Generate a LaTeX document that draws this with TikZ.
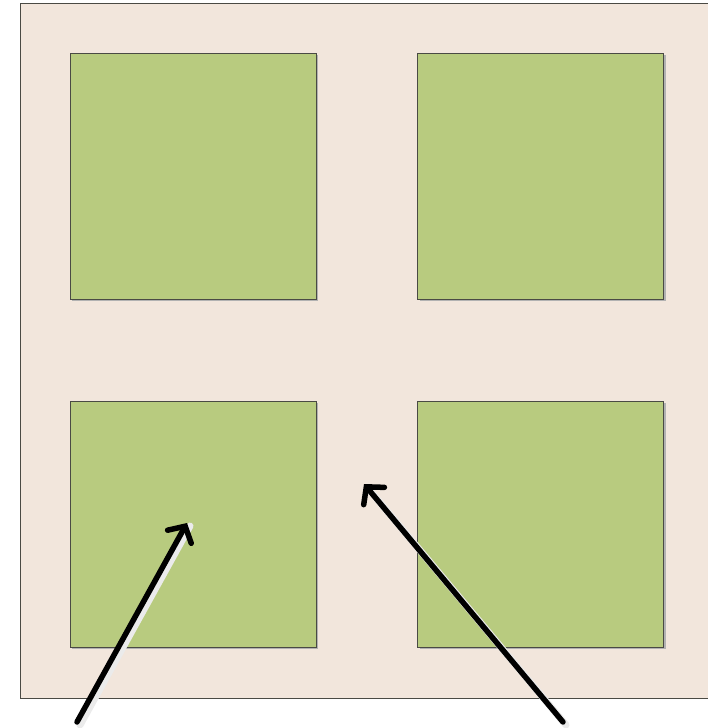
\documentclass[tikz,border=0pt]{standalone}
\usetikzlibrary{arrows.meta,calc}
\definecolor{bgbeige}{HTML}{F2E6DC}
\definecolor{leaf}{HTML}{B8CB7F}
\definecolor{edgegray}{HTML}{4A4A44}
\tikzset{
  panel/.style={draw=edgegray, line width=0.9pt, fill=leaf, minimum width=246pt, minimum height=246pt, inner sep=0pt, outer sep=0pt},
  panelshadow/.style={fill=black!30, minimum width=246pt, minimum height=246pt, inner sep=0pt, draw=none},
  pointer/.style={line width=5.5pt, -{Straight Barb[length=12pt,width=27pt,line cap=round]}, line cap=round},
  pointershadow/.style={line width=7pt, draw=black!8, line cap=round}
}
\begin{document}
\begin{tikzpicture}[x=1pt,y=-1pt]
\useasboundingbox (0,0) rectangle (708,728);
\fill[white] (0,0) rectangle (708,728);
\node (bg) [draw=edgegray, line width=1.2pt, fill=bgbeige, anchor=north west, minimum width=700pt, minimum height=695pt, inner sep=0pt] at (19.5,3) {};
% shadows
\node[panelshadow] at (194.5,178) {};
\node[panelshadow] at (542.5,178) {};
\node[panelshadow] at (194.5,526) {};
\node[panelshadow] at (542.5,526) {};
% panels
\node (tl) [panel] at (193,176) {};
\node (tr) [panel] at (540.5,176) {};
\node (bl) [panel] at (193,524) {};
\node (br) [panel] at (540.5,524) {};
% arrows
\coordinate (s1) at (77,722);
\coordinate (t1) at (187,523);
\coordinate (s2) at (563,722);
\coordinate (t2) at (364,484);
\draw[pointershadow] ($(s1)+(3,3)$) -- ($(t1)+(3,3)$);
\draw[pointershadow] ($(s2)+(3,3)$) -- ($(t2)+(3,3)$);
\draw[pointer] (s1) -- (t1);
\draw[pointer] (s2) -- (t2);
\end{tikzpicture}
\end{document}
